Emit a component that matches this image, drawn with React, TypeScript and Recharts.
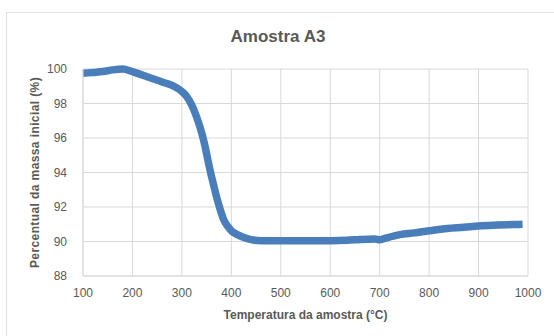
import { CartesianGrid, Label, Line, LineChart, XAxis, YAxis } from "recharts";

// TGA curve
const temperatures = [
  100, 120, 140, 160, 180, 200, 220, 240, 260, 280, 300, 310, 320, 330, 340, 347, 352, 358, 364, 370, 377, 384,
  392, 401, 412, 424, 438, 460, 500, 550, 600, 634, 660, 690, 700, 710, 741, 770, 800, 837, 870, 900, 938, 970, 989,
];
const massPercent = [
  99.75, 99.8, 99.85, 99.95, 100.0, 99.85, 99.65, 99.45, 99.25, 99.05, 98.7, 98.4, 97.9, 97.2, 96.3, 95.5, 94.8, 94.0,
  93.3, 92.6, 91.9, 91.3, 90.9, 90.6, 90.4, 90.25, 90.12, 90.05, 90.05, 90.05, 90.05, 90.07, 90.12, 90.15, 90.1, 90.18,
  90.4, 90.5, 90.62, 90.75, 90.82, 90.9, 90.95, 90.98, 91.0,
];
const xTicks = [100, 200, 300, 400, 500, 600, 700, 800, 900, 1000];
const yTicks = [88, 90, 92, 94, 96, 98, 100];

const data = temperatures.map((t, i) => ({ t, m: massPercent[i] }));

const font = "'Liberation Sans', Arial, sans-serif";
const tickStyle = { fontSize: 12, fill: "#595959", fontFamily: font };

export default function App() {
  return (
    <div style={{ position: "absolute", left: 0, top: 0, width: 554, height: 336, background: "#fff", overflow: "hidden" }}>
      {/* chart frame, runs off the right and bottom edges */}
      <div
        style={{
          position: "absolute",
          left: 6,
          top: 12,
          width: 600,
          height: 400,
          border: "1px solid #e2e2e2",
        }}
      />
      <div
        style={{
          position: "absolute",
          left: 0,
          top: 27,
          width: 556,
          textAlign: "center",
          fontFamily: font,
          fontSize: 17,
          fontWeight: "bold",
          color: "#595959",
        }}
      >
        Amostra A3
      </div>
      <div style={{ position: "absolute", left: 0, top: 0 }}>
        <LineChart width={554} height={336} data={data} margin={{ top: 69, right: 26, bottom: 30, left: 0 }}>
          <CartesianGrid stroke="#d9d9d9" />
          <XAxis
            dataKey="t"
            type="number"
            domain={[100, 1000]}
            ticks={xTicks}
            height={30}
            tickLine={false}
            tickSize={0}
            tickMargin={12}
            stroke="#d9d9d9"
            tick={tickStyle}
          >
            <Label
              value="Temperatura da amostra (°C)"
              position="bottom"
              offset={4}
              style={{ fontSize: 12, fontWeight: "bold", fill: "#595959", fontFamily: font }}
            />
          </XAxis>
          <YAxis
            type="number"
            domain={[88, 100]}
            ticks={yTicks}
            width={83}
            tickLine={false}
            tickSize={0}
            tickMargin={16}
            stroke="#d9d9d9"
            tick={tickStyle}
          >
            <Label
              value="Percentual da massa inicial (%)"
              angle={-90}
              position="insideLeft"
              offset={35}
              style={{
                textAnchor: "middle",
                fontSize: 12,
                letterSpacing: 0.4,
                fontWeight: "bold",
                fill: "#595959",
                fontFamily: font,
              }}
            />
          </YAxis>
          <Line
            dataKey="m"
            type="monotone"
            stroke="#4a7ebb"
            strokeWidth={7.5}
            dot={false}
            isAnimationActive={false}
          />
        </LineChart>
      </div>
    </div>
  );
}
